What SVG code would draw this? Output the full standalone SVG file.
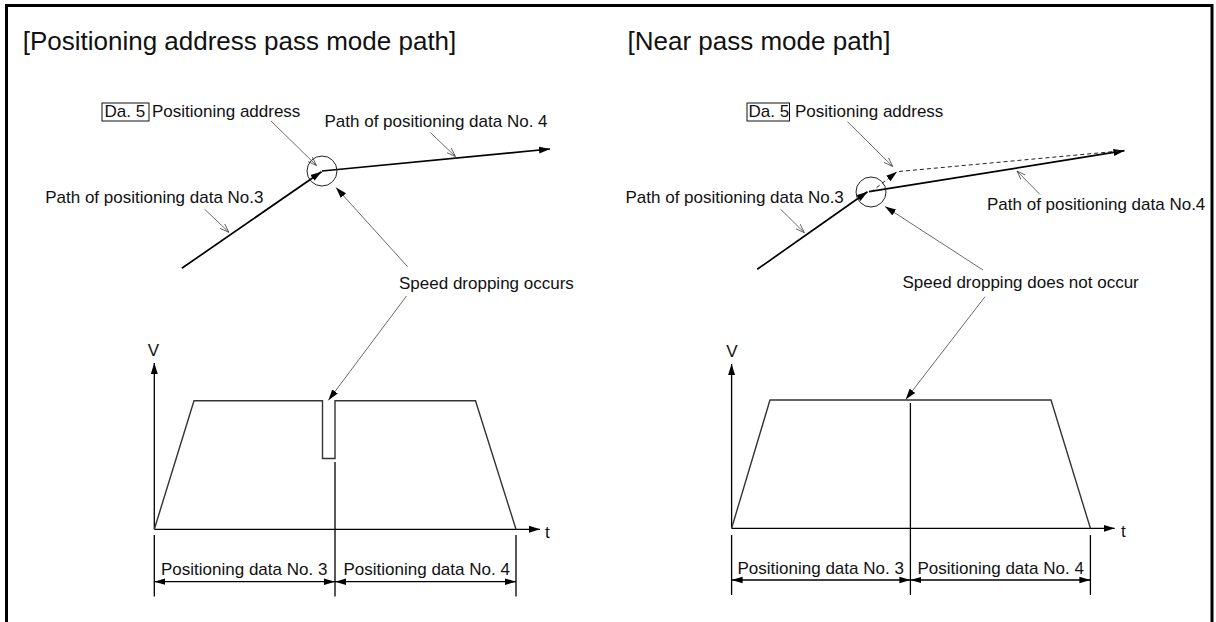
<svg xmlns="http://www.w3.org/2000/svg" width="1216" height="622" viewBox="0 0 1216 622">
<style>
text{font-family:"Liberation Sans",Arial,sans-serif;fill:#111;}
.t{font-size:17px;}
.h{font-size:26px;}
.main{stroke:#000;stroke-width:1.7;fill:none;}
.lead{stroke:#444;stroke-width:0.8;fill:none;}
.ax{stroke:#000;stroke-width:1.3;fill:none;}
.trap{stroke:#333;stroke-width:1.4;fill:none;}
.dash{stroke:#222;stroke-width:1;fill:none;stroke-dasharray:4 3;}
.ring{stroke:#222;stroke-width:1;fill:none;}
.box{stroke:#111;stroke-width:1;fill:none;}
</style>
<defs>
<marker id="af" markerUnits="userSpaceOnUse" markerWidth="12" markerHeight="8" refX="11" refY="4" orient="auto"><path d="M0,0.5 L11,4 L0,7.5 z" fill="#000"/></marker>
<marker id="as" markerUnits="userSpaceOnUse" markerWidth="12" markerHeight="8" refX="11" refY="4" orient="auto-start-reverse"><path d="M0,0.8 L11,4 L0,7.2 z" fill="#000"/></marker>
<marker id="ao" markerUnits="userSpaceOnUse" markerWidth="10" markerHeight="8" refX="9" refY="4" orient="auto"><path d="M0,0.8 L9,4 L0,7.2" fill="none" stroke="#444" stroke-width="0.8"/></marker>
</defs>
<rect width="1216" height="622" fill="#fff"/>
<path d="M6.5,622 V5.5 H1212 V622" fill="none" stroke="#000" stroke-width="3"/>

<g id="connectors">
<!-- left panel paths -->
<path class="main" d="M181.8,268.3 L321.5,171.7" marker-end="url(#af)"/>
<path class="main" d="M322,171 L550,149" marker-end="url(#af)"/>
<circle class="ring" cx="322" cy="171" r="15"/>
<path class="lead" d="M271,121 L316.5,165.5" marker-end="url(#ao)"/>
<path class="lead" d="M430.5,132.7 L455.4,156.5" marker-end="url(#ao)"/>
<path class="lead" d="M204.7,209.3 L228.9,232.3" marker-end="url(#ao)"/>
<path class="lead" d="M407.6,266.7 L336,187.5" marker-end="url(#af)"/>
<path class="lead" d="M406.5,296 L328.4,400.3" marker-end="url(#af)"/>
<!-- right panel paths -->
<path class="main" d="M757.2,269.3 L867.5,191.8" marker-end="url(#af)"/>
<path class="main" d="M869,191.7 L1124.5,150.7" marker-end="url(#af)"/>
<path class="dash" d="M871,192 L897,171.7" marker-end="url(#af)"/>
<path class="dash" d="M899,171.5 L1120,151"/>
<circle class="ring" cx="871" cy="192" r="15"/>
<path class="lead" d="M847.5,121.7 L892.7,166.5" marker-end="url(#ao)"/>
<path class="lead" d="M780.7,209.3 L804.3,232.7" marker-end="url(#ao)"/>
<path class="lead" d="M1040,194.5 L1017,171" marker-end="url(#ao)"/>
<path class="lead" d="M983,270 L885,206.5" marker-end="url(#af)"/>
<path class="lead" d="M985,296.7 L905.7,399.5" marker-end="url(#af)"/>
<!-- left graph -->
<path class="ax" d="M154.3,529.3 L154.3,363" marker-end="url(#af)"/>
<path class="ax" d="M154.3,529.3 L540,529.3" marker-end="url(#af)"/>
<path class="trap" d="M154.3,529.3 L194,400.7 L322.5,400.7 L322.5,458.5 L335,458.5 L335,400.7 L475.5,400.7 L516,529.3"/>
<path class="ax" d="M335,462 V596.5 M154.3,535 V596.5 M516,535 V596.5"/>
<path class="ax" d="M154.3,581.7 L335,581.7" marker-start="url(#as)" marker-end="url(#as)"/>
<path class="ax" d="M335,581.7 L516,581.7" marker-start="url(#as)" marker-end="url(#as)"/>
<!-- right graph -->
<path class="ax" d="M731.6,528.3 L731.6,364" marker-end="url(#af)"/>
<path class="ax" d="M731.6,528.3 L1114.7,528.3" marker-end="url(#af)"/>
<path class="trap" d="M731.6,528.3 L770,400 L1051,400 L1090.4,528.3"/>
<path class="ax" d="M910.4,403 V595 M731.6,535 V595 M1090.4,535 V595"/>
<path class="ax" d="M731.6,580 L910.4,580" marker-start="url(#as)" marker-end="url(#as)"/>
<path class="ax" d="M910.4,580 L1090.4,580" marker-start="url(#as)" marker-end="url(#as)"/>
</g>

<g id="title-left"><text class="h" x="22.7" y="50">[Positioning address pass mode path]</text></g>
<g id="title-right"><text class="h" x="627.5" y="50">[Near pass mode path]</text></g>

<g id="addr-left"><rect class="box" x="102" y="103" width="47" height="18"/><text class="t" x="104.5" y="117">Da. 5</text><text class="t" x="152" y="117">Positioning address</text></g>
<g id="path4-left"><text class="t" x="324.5" y="126.7">Path of positioning data No. 4</text></g>
<g id="path3-left"><text class="t" x="45.2" y="202.7">Path of positioning data No.3</text></g>
<g id="speed-left"><text class="t" x="399" y="289.3">Speed dropping occurs</text></g>
<g id="graph-left-labels">
<text class="t" x="153.5" y="355.5" text-anchor="middle">V</text>
<text class="t" x="545" y="537.5">t</text>
<text class="t" x="161" y="575">Positioning data No. 3</text>
<text class="t" x="343.5" y="575">Positioning data No. 4</text>
</g>

<g id="addr-right"><rect class="box" x="747" y="103" width="42.5" height="18"/><text class="t" x="748.5" y="117">Da. 5</text><text class="t" x="795" y="117">Positioning address</text></g>
<g id="path3-right"><text class="t" x="625.5" y="202.7">Path of positioning data No.3</text></g>
<g id="path4-right"><text class="t" x="987" y="210">Path of positioning data No.4</text></g>
<g id="speed-right"><text class="t" x="902.5" y="288.3">Speed dropping does not occur</text></g>
<g id="graph-right-labels">
<text class="t" x="732" y="357" text-anchor="middle">V</text>
<text class="t" x="1121" y="537">t</text>
<text class="t" x="737.5" y="574">Positioning data No. 3</text>
<text class="t" x="917.5" y="574">Positioning data No. 4</text>
</g>
</svg>
